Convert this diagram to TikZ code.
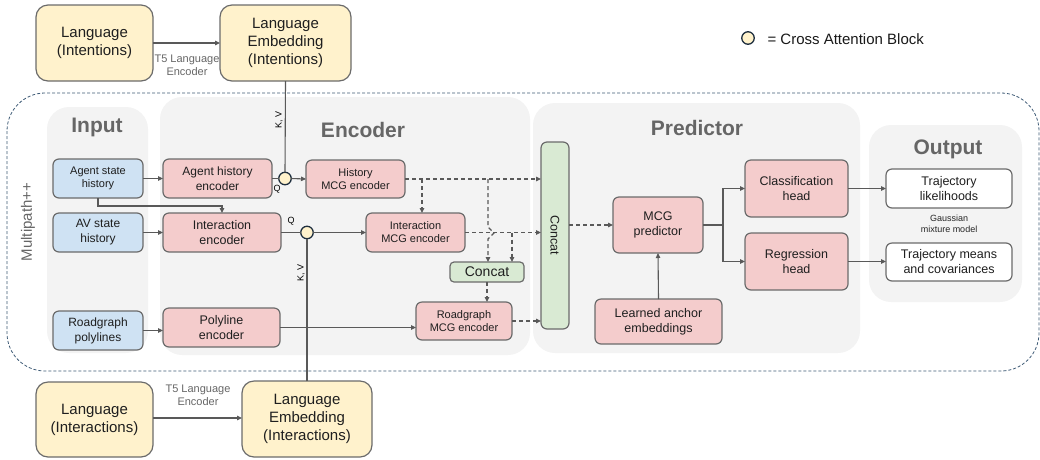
\documentclass[tikz,border=0pt]{standalone}
\usepackage{fontspec}
\setmainfont{Liberation Sans}
\usetikzlibrary{arrows.meta,calc}
\definecolor{ylw}{HTML}{FFF2CC}
\definecolor{blu}{HTML}{CFE2F3}
\definecolor{pnk}{HTML}{F4CCCC}
\definecolor{grn}{HTML}{D9EAD3}
\definecolor{pnl}{HTML}{F3F3F3}
\definecolor{bdr}{HTML}{6B6B6B}
\definecolor{lin}{HTML}{595959}
\definecolor{ttl}{HTML}{666666}
\definecolor{dsh}{HTML}{3D5A75}
\definecolor{cab}{HTML}{1F2F3F}
\newcommand{\fs}[2]{\fontsize{#1}{#2}\selectfont}
\begin{document}
\begin{tikzpicture}[x=1pt,y=-1pt,
  box/.style={draw=bdr, line width=1.2pt, rounded corners=6pt, align=center,
    inner sep=0pt, outer sep=0pt, text=black!88},
  ybox/.style={box, fill=ylw, rounded corners=12pt, font=\fs{15}{18}},
  bbox/.style={box, fill=blu},
  pbox/.style={box, fill=pnk},
  gbox/.style={box, fill=grn},
  wbox/.style={box, fill=white, font=\fs{12.5}{15}},
  panel/.style={fill=pnl, draw=none, rounded corners=22pt},
  ptitle/.style={font=\bfseries\fs{21}{24}, text=ttl},
  ca/.style={circle, draw=cab, fill=ylw, line width=1.3pt, minimum size=12.5pt, inner sep=0pt, outer sep=0pt},
  arr/.style={draw=lin, line width=1.1pt, -{Triangle[length=5pt,width=4.5pt]}},
  plain/.style={draw=lin, line width=1.1pt},
  darr/.style={arr, dash pattern=on 4pt off 3pt},
  lbl/.style={font=\fs{11}{13}, text=ttl, align=center},
  small/.style={font=\fs{9}{11}, text=black!85}
]
\useasboundingbox (0,0) rectangle (1040,459);

% panels
\fill[panel] (47,107) rectangle (148,353);
\fill[panel] (160,97) rectangle (530,355);
\fill[panel] (533,103) rectangle (860,353);
\fill[panel] (869,125) rectangle (1022,302);
\node[ptitle] (tin) at (97,127) {Input};
\node[ptitle] (tenc) at (363,130) {Encoder};
\node[ptitle] (tpred) at (697,128) {Predictor};
\node[ptitle] (tout) at (948,149) {Output};

% outer dashed frame
\draw[dsh, line width=0.8pt, dash pattern=on 3pt off 2pt, rounded corners=38pt] (7,93) rectangle (1039,371);
\node[rotate=90, font=\fs{15}{18}, text=ttl] (mp) at (28,222) {Multipath++};

% language boxes
\node[ybox, minimum width=117pt, minimum height=76pt] (langI) at (94.5,43) {Language\\(Intentions)};
\node[ybox, minimum width=131pt, minimum height=76pt] (embI) at (285.5,43) {Language\\Embedding\\(Intentions)};
\node[ybox, minimum width=117pt, minimum height=75pt] (langX) at (94.5,419.5) {Language\\(Interactions)};
\node[ybox, minimum width=130pt, minimum height=76pt] (embX) at (307,419) {Language\\Embedding\\(Interactions)};

% inputs
\node[bbox, font=\fs{11}{13}, minimum width=90pt, minimum height=39pt] (ash) at (98,178.5) {Agent state\\history};
\node[bbox, font=\fs{12}{15}, minimum width=90pt, minimum height=39pt] (avh) at (98,232.5) {AV state\\history};
\node[bbox, font=\fs{12}{15}, minimum width=90pt, minimum height=39pt] (rgp) at (98,330.5) {Roadgraph\\polylines};

% encoders
\node[pbox, font=\fs{12}{15}, minimum width=109pt, minimum height=39pt] (ahe) at (217.5,178.5) {Agent history\\encoder};
\node[pbox, font=\fs{12.5}{15}, minimum width=118pt, minimum height=39pt] (ie) at (222,232.5) {Interaction\\encoder};
\node[pbox, font=\fs{12.5}{15}, minimum width=117pt, minimum height=39pt] (pe) at (221.5,327.5) {Polyline\\encoder};
\node[pbox, font=\fs{11}{13}, minimum width=99pt, minimum height=38pt] (hmcg) at (355.5,179) {History\\MCG encoder};
\node[pbox, font=\fs{11}{13}, minimum width=99pt, minimum height=39pt] (imcg) at (415.5,232.5) {Interaction\\MCG encoder};
\node[gbox, font=\fs{14}{16}, minimum width=74pt, minimum height=20pt, rounded corners=4pt] (sc) at (487,272) {Concat};
\node[pbox, font=\fs{11}{13}, minimum width=96pt, minimum height=38pt] (rmcg) at (464,321) {Roadgraph\\MCG encoder};
\node[gbox, font=\fs{12.5}{15}, rotate=-90, minimum width=187pt, minimum height=28pt] (bc) at (555,235.5) {Concat};

% cross attention blocks
\node[ca] (c1) at (285,178.5) {};
\node[ca] (c2) at (307,232.5) {};
\node[font=\fs{9}{10}] (q1) at (277,189) {Q};
\node[font=\fs{9}{10}] (q2) at (291,221) {Q};
\node[font=\fs{9}{10}, rotate=90] (kv1) at (279,120) {K, V};
\node[font=\fs{9}{10}, rotate=90] (kv2) at (301,273) {K, V};

% predictor
\node[pbox, font=\fs{12.5}{15}, minimum width=90pt, minimum height=56pt] (mcgp) at (658,225) {MCG\\predictor};
\node[pbox, font=\fs{12.5}{15}, minimum width=127pt, minimum height=45pt] (lae) at (658.5,321.5) {Learned anchor\\embeddings};
\node[pbox, font=\fs{12.5}{15}, minimum width=103pt, minimum height=57pt] (ch) at (796.5,188.5) {Classification\\head};
\node[pbox, font=\fs{12.5}{15}, minimum width=103pt, minimum height=57pt] (rh) at (796.5,261.5) {Regression\\head};

% outputs
\node[wbox, minimum width=126pt, minimum height=39pt] (tl) at (949,188.5) {Trajectory\\likelihoods};
\node[wbox, minimum width=126pt, minimum height=38pt] (tm) at (949,262) {Trajectory means\\and covariances};
\node[small, align=center] (gmm) at (949,224) {Gaussian\\mixture model};

% legend
\node[ca] (leg) at (748,38) {};
\node[anchor=west, font=\fs{15}{18}, text=black!90] (legt) at (764,39.5) {= Cross Attention Block};

% language connectors
\draw[arr] (langI.east) -- (embI.west);
\node[lbl] (t5a) at (187,65) {T5 Language\\Encoder};
\draw[arr] (langX.east |- 0,418) -- (embX.west |- 0,418);
\node[lbl] (t5b) at (198,395) {T5 Language\\Encoder};
\draw[plain] (embI.south) -- (c1.north);
\draw[plain] (embX.north) -- (c2.south);

% input to encoders
\draw[arr] (ash.east) -- (ahe.west);
\draw[arr] (avh.east) -- (ie.west);
\draw[arr] (rgp.east) -- (rgp.east -| pe.west);
\draw[arr] (ash.south) -- ++(0,8) -| (ie.north);
\draw[plain] (ahe.east) -- (c1.west);
\draw[arr] (c1.east) -- (hmcg.west);
\draw[plain] (ie.east) -- (c2.west);
\draw[arr] (c2.east) -- (imcg.west);
\draw[arr] (pe.east) -- (pe.east -| rmcg.west);

% dashed encoder flows (bc is rotated: its left side is bc.south)
\coordinate (b1) at (422,179);
\coordinate (b2) at (488,179);
\coordinate (b3) at (512,232.5);
\draw[darr] (hmcg.east) -- (hmcg.east -| bc.south);
\draw[darr] (b1) -- (b1 |- imcg.north);
\draw[darr] (b2) -- ++(0,48) -- ++(6,6) -- ++(-6,6) -- (b2 |- sc.north);
\draw[darr] (imcg.east) -- (imcg.east -| bc.south);
\draw[darr] (b3) -- (b3 |- sc.north);
\draw[darr] (sc.south) -- (sc.south |- rmcg.north);
\draw[darr] (rmcg.east) -- (rmcg.east -| bc.south);

% predictor flows
\draw[darr] (bc.north |- mcgp.west) -- (mcgp.west);
\draw[arr] (lae.north) -- (mcgp.south);
\coordinate (sp) at (723,225);
\draw[plain] (mcgp.east) -- (sp);
\draw[arr] (sp) |- (ch.west);
\draw[arr] (sp) |- (rh.west);
\draw[arr] (ch.east) -- (ch.east -| tl.west);
\draw[arr] (rh.east) -- (rh.east -| tm.west);
\end{tikzpicture}
\end{document}
